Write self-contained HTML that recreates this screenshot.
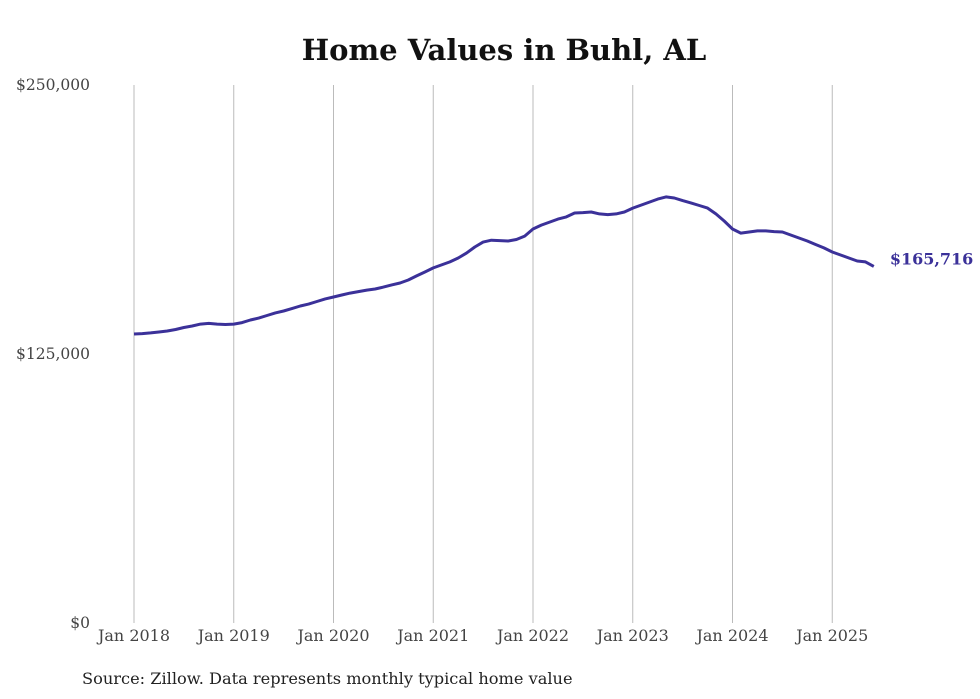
<!DOCTYPE html>
<html><head><meta charset="utf-8">
<style>
body{margin:0;background:#fff;}
svg{display:block;}
.tick{font-family:"DejaVu Serif","Liberation Serif",serif;font-size:15.5px;fill:#444;}
.xtick{font-size:16px;}
</style></head>
<body>
<svg id="chart" width="980" height="699">
<text x="504" y="60" text-anchor="middle" font-family="'DejaVu Serif','Liberation Serif',serif" font-weight="bold" font-size="29" fill="#111">Home Values in Buhl, AL</text>
<g id="grid"></g>
<g id="yticks"></g>
<g id="xticks"></g>
<path id="line" fill="none" stroke="#3b3199" stroke-width="3" stroke-linejoin="round"/>
<text id="endlabel" font-family="'DejaVu Serif','Liberation Serif',serif" font-weight="bold" font-size="16" fill="#3b3199"></text>
<text x="82" y="684" font-family="'DejaVu Serif','Liberation Serif',serif" font-size="16.2" fill="#222">Source: Zillow. Data represents monthly typical home value</text>
</svg>
<script>
const startYear = 2018;
const values = [
134.3,134.5,134.8,135.2,135.7,136.4,137.3,138.0,138.9,139.2,138.9,138.7,
138.9,139.6,140.8,141.7,142.9,144.1,145.0,146.1,147.3,148.2,149.4,150.6,
151.5,152.4,153.3,154.0,154.7,155.2,156.1,157.1,158.0,159.4,161.3,163.1,
165.0,166.4,167.8,169.6,171.9,174.7,177.0,177.9,177.7,177.5,178.2,179.8,
183.1,184.9,186.3,187.7,188.7,190.5,190.7,191.0,190.1,189.8,190.1,191.0,
192.8,194.2,195.6,197.0,198.0,197.5,196.3,195.2,194.0,192.8,190.1,186.8,
183.1,181.2,181.7,182.2,182.2,181.9,181.7,180.3,178.9,177.5,175.9,174.3,
172.4,171.0,169.6,168.2,167.8,165.716
];
const yTicks = [0,125,250];
const yTickLabels = ["$0","$125,000","$250,000"];
const xTickLabels = ["Jan 2018","Jan 2019","Jan 2020","Jan 2021","Jan 2022","Jan 2023","Jan 2024","Jan 2025"];
const endLabel = "$165,716";

const NS="http://www.w3.org/2000/svg";
const x0=134, pxPerYear=99.75, yBase=623, yTop=85, yMax=250;
function xs(m){return x0+m*pxPerYear/12;}
function ys(v){return yBase-(v/yMax)*(yBase-yTop);}

const grid=document.getElementById('grid'), xt=document.getElementById('xticks'), yt=document.getElementById('yticks');
xTickLabels.forEach((lab,i)=>{
  const x=xs(i*12);
  const l=document.createElementNS(NS,'line');
  l.setAttribute('x1',x);l.setAttribute('x2',x);l.setAttribute('y1',yTop);l.setAttribute('y2',yBase);
  l.setAttribute('stroke','#bbb');l.setAttribute('stroke-width','1');
  
  
  grid.appendChild(l);
  const t=document.createElementNS(NS,'text');
  t.setAttribute('x',x);t.setAttribute('y',641);t.setAttribute('text-anchor','middle');t.setAttribute('class','tick xtick');
  t.textContent=lab;
  
  
  xt.appendChild(t);
});
yTicks.forEach((v,i)=>{
  const t=document.createElementNS(NS,'text');
  t.setAttribute('x',90);t.setAttribute('y',ys(v)+5);t.setAttribute('text-anchor','end');t.setAttribute('class','tick');
  t.textContent=yTickLabels[i];
  
  
  yt.appendChild(t);
});
let d='';
values.forEach((v,i)=>{d+=(i?'L':'M')+xs(i).toFixed(1)+' '+ys(v).toFixed(1);});
document.getElementById('line').setAttribute('d',d);
const last=values.length-1;
const el=document.getElementById('endlabel');
el.setAttribute('x',xs(last)+16);el.setAttribute('y',ys(values[last])-2);
el.textContent=endLabel;
</script>
</body></html>
